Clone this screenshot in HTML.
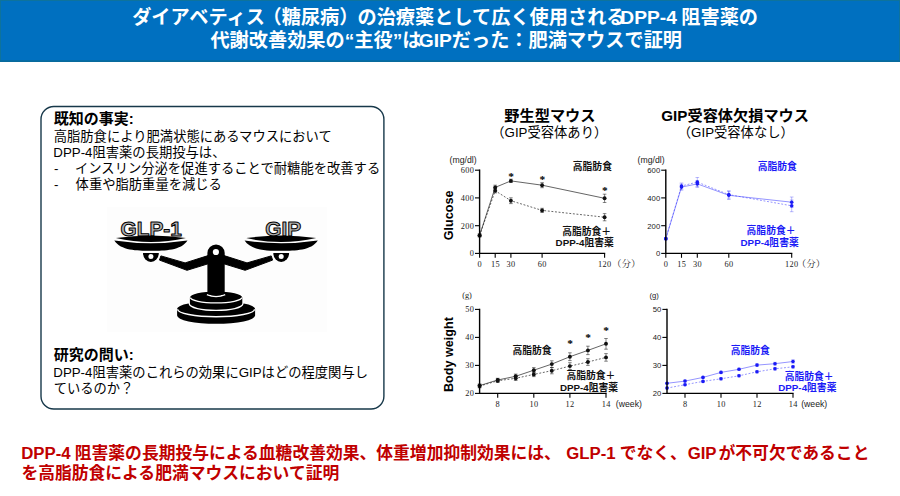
<!DOCTYPE html>
<html lang="ja"><head><meta charset="utf-8"><title>DPP-4阻害薬の代謝改善効果の主役はGIP</title>
<style>
html,body{margin:0;padding:0;background:#fff;}
body{width:900px;height:496px;overflow:hidden;position:relative;font-family:"Liberation Sans","Noto Sans CJK JP",sans-serif;}
#art{position:absolute;left:0;top:0;width:900px;height:496px;display:block;}
</style></head><body>
<svg id="art" width="900" height="496" viewBox="0 0 900 496">
<style>
.tk{font-family:"Liberation Serif",serif;font-size:8.3px;fill:#222;letter-spacing:.35px}
.tks{font-family:"Liberation Sans",sans-serif;font-size:7.7px;fill:#222}
.st{font-family:"Liberation Sans",sans-serif;font-size:13px;fill:#222}
.un{font-family:"Liberation Sans",sans-serif;font-size:8.7px;fill:#222}
.jp{font-family:"Liberation Sans","Noto Sans CJK JP",sans-serif}
.hd{font-family:"Liberation Sans","Noto Sans CJK JP",sans-serif;font-weight:bold;font-size:19.2px;fill:#fff}
.bd{font-family:"Liberation Sans","Noto Sans CJK JP",sans-serif;font-size:13.3px;fill:#000}
.bh{font-family:"Liberation Sans","Noto Sans CJK JP",sans-serif;font-weight:bold;font-size:15px;fill:#000}
.lg{font-family:"Liberation Sans","Noto Sans CJK JP",sans-serif;font-weight:bold;font-size:9.8px}
.rd{font-family:"Liberation Sans","Noto Sans CJK JP",sans-serif;font-weight:bold;font-size:16.8px;fill:#c00000}
.as{font-family:"Liberation Serif",serif;font-weight:bold;font-size:11.4px;fill:#000}
</style>
<rect x="0" y="0" width="900" height="61.8" fill="#0070c0"/>
<path d="M0 0H900V61.8H0Z M1 1V60.6H899V1Z" fill="#0e739c" fill-rule="evenodd"/>
<rect x="0" y="60.6" width="900" height="1.2" fill="#04669a"/>
<text class="hd" x="132.13" y="23.61">ダイアベティス</text>
<text class="hd" x="262.53" y="23.61">（糖尿病）</text>
<text class="hd" x="357.48" y="23.61">の治療薬として広く使用される</text>
<text class="hd" x="620.33" y="23.61">DPP-4</text>
<text class="hd" x="681.29" y="23.61">阻害薬の</text>
<text class="hd" x="210.43" y="46.71">代謝改善効果の“主役”は</text>
<text class="hd" x="418.72" y="46.71">GIPだった：肥満マウスで証明</text>
<rect x="41" y="106.5" width="342.9" height="302.5" rx="12.8" ry="12.8" fill="#fff" stroke="#17384a" stroke-width="1.4"/>
<text class="bh" x="53.81" y="123.91">既知の事実:</text>
<text class="bd" x="53.74" y="141.15">高脂肪食により肥満状態にあるマウスにおいて</text>
<text class="bd" x="53.31" y="157.45">DPP-4阻害薬の長期投与は、</text>
<text class="bd" x="54.09" y="173.25">-</text>
<text class="bd" x="75.02" y="173.25">インスリン分泌を促進することで耐糖能を改善する</text>
<text class="bd" x="54.09" y="188.55">-</text>
<text class="bd" x="75.61" y="188.55">体重や脂肪重量を減じる</text>
<text class="bh" x="53.87" y="360.41">研究の問い:</text>
<text class="bd" x="53.29" y="377.45">DPP-4阻害薬のこれらの効果にGIPはどの程度関与し</text>
<text class="bd" x="53.67" y="393.15">ているのか？</text>
<rect x="107" y="207" width="220" height="125" fill="#fdfdfd"/>
<text x="120.57" y="235.9" font-family="&quot;Liberation Sans&quot;,sans-serif" font-weight="bold" font-size="20.8px" fill="#fff" stroke="#fff" stroke-width="3" stroke-linejoin="round" opacity="0.85">GLP-1</text>
<text x="120.57" y="235.9" font-family="&quot;Liberation Sans&quot;,sans-serif" font-weight="bold" font-size="20.8px" fill="#b0b0b0" stroke="#000" stroke-width="1" stroke-linejoin="round">GLP-1</text>
<text x="265.21" y="235.9" font-family="&quot;Liberation Sans&quot;,sans-serif" font-weight="bold" font-size="20.8px" fill="#fff" stroke="#fff" stroke-width="3" stroke-linejoin="round" opacity="0.85">GIP</text>
<text x="265.21" y="235.9" font-family="&quot;Liberation Sans&quot;,sans-serif" font-weight="bold" font-size="20.8px" fill="#b0b0b0" stroke="#000" stroke-width="1" stroke-linejoin="round">GIP</text>
<path d="M115.90 238.1 Q150.90 233.1 185.90 238.1 Q150.90 245.9 115.90 238.1Z" fill="#000"/><path d="M114.30 240.5 C120.90 251 138.90 250.8 150.90 250.8 C162.90 250.8 180.90 251 187.50 240.5 Q150.90 245.9 114.30 240.5Z" fill="#000"/><path d="M143.00 253 A7.9 8.9 0 0 0 158.80 253Z" fill="#000"/><circle cx="150.90" cy="256.5" r="2.5" fill="#fff"/><path d="M246.20 238.1 Q281.20 233.1 316.20 238.1 Q281.20 245.9 246.20 238.1Z" fill="#000"/><path d="M244.60 240.5 C251.20 251 269.20 250.8 281.20 250.8 C293.20 250.8 311.20 251 317.80 240.5 Q281.20 245.9 244.60 240.5Z" fill="#000"/><path d="M273.30 253 A7.9 8.9 0 0 0 289.10 253Z" fill="#000"/><circle cx="281.20" cy="256.5" r="2.5" fill="#fff"/><path d="M271.2 255.9 L247 262.9 L224 255.6 L224 263.8 L245.1 270.3 L272.6 260.1Z" fill="#000" stroke="#000" stroke-width="1" stroke-linejoin="round"/><path d="M271.2 255.9 L247 262.9 L224 255.6 L224 263.8 L245.1 270.3 L272.6 260.1Z" fill="#000" stroke="#000" stroke-width="1" stroke-linejoin="round" transform="translate(432.10 0) scale(-1 1)"/><path d="M177.1 308.8 A39 7.4 0 0 1 255.1 308.8 L255.1 315.6 A39 8.2 0 0 1 177.1 315.6Z" fill="#000"/><path d="M177.6 309.2 A38.5 7.5 0 0 0 254.6 309.2" fill="none" stroke="#fff" stroke-width="1.4"/><path d="M189.9 297.6 A26.2 6 0 0 1 242.3 297.6 L242.3 303.4 A26.2 6.4 0 0 1 189.9 303.4Z" fill="#000" stroke="#fff" stroke-width="2.6" paint-order="stroke"/><path d="M190.4 297.6 A25.7 5.3 0 0 0 241.8 297.6" fill="none" stroke="#fff" stroke-width="1.4"/><path d="M206.9 294.6 Q216.05 298.3 225.2 294.6" fill="none" stroke="#fff" stroke-width="1.5"/><path d="M207.4 294 L207.4 253.1 A8.65 8.65 0 0 1 224.7 253.1 L224.7 294 Q216.05 297.6 207.4 294Z" fill="#000"/><circle cx="215.9" cy="252" r="3.1" fill="#fff"/>
<text class="jp" x="504.35" y="120.53" font-weight="bold" font-size="15.2px" fill="#000">野生型マウス</text>
<text class="bd" x="491.29" y="136.85">（GIP受容体あり）</text>
<text class="jp" x="661.30" y="120.53" font-weight="bold" font-size="15.2px" fill="#000">GIP受容体欠損マウス</text>
<text class="bd" x="677.80" y="136.85">（GIP受容体なし）</text>
<path d="M479.6 235.4 L495.2 187.4 L510.9 180.9 L542.1 185.2 L604.6 198.3" fill="none" stroke="#111" stroke-width="0.65"/><path d="M479.6 234.0 V236.8 M477.8 234.0 h3.6 M477.8 236.8 h3.6" stroke="#111" stroke-width="0.6" fill="none" opacity="0.85"/><circle cx="479.6" cy="235.4" r="1.95" fill="#111"/><path d="M495.2 185.2 V189.6 M493.4 185.2 h3.6 M493.4 189.6 h3.6" stroke="#111" stroke-width="0.6" fill="none" opacity="0.85"/><circle cx="495.2" cy="187.4" r="1.95" fill="#111"/><path d="M510.9 179.2 V182.5 M509.1 179.2 h3.6 M509.1 182.5 h3.6" stroke="#111" stroke-width="0.6" fill="none" opacity="0.85"/><circle cx="510.9" cy="180.9" r="1.95" fill="#111"/><path d="M542.1 182.7 V187.7 M540.3 182.7 h3.6 M540.3 187.7 h3.6" stroke="#111" stroke-width="0.6" fill="none" opacity="0.85"/><circle cx="542.1" cy="185.2" r="1.95" fill="#111"/><path d="M604.6 194.2 V202.5 M602.8 194.2 h3.6 M602.8 202.5 h3.6" stroke="#111" stroke-width="0.6" fill="none" opacity="0.85"/><circle cx="604.6" cy="198.3" r="1.95" fill="#111"/><path d="M479.6 235.4 L495.2 190.7 L510.9 200.7 L542.1 210.4 L604.6 217.2" fill="none" stroke="#111" stroke-width="0.65" stroke-dasharray="1.9 1.7"/><path d="M479.6 234.0 V236.8 M477.8 234.0 h3.6 M477.8 236.8 h3.6" stroke="#111" stroke-width="0.6" fill="none" opacity="0.85"/><circle cx="479.6" cy="235.4" r="1.95" fill="#111"/><path d="M495.2 188.5 V192.9 M493.4 188.5 h3.6 M493.4 192.9 h3.6" stroke="#111" stroke-width="0.6" fill="none" opacity="0.85"/><circle cx="495.2" cy="190.7" r="1.95" fill="#111"/><path d="M510.9 197.8 V203.6 M509.1 197.8 h3.6 M509.1 203.6 h3.6" stroke="#111" stroke-width="0.6" fill="none" opacity="0.85"/><circle cx="510.9" cy="200.7" r="1.95" fill="#111"/><path d="M542.1 208.3 V212.5 M540.3 208.3 h3.6 M540.3 212.5 h3.6" stroke="#111" stroke-width="0.6" fill="none" opacity="0.85"/><circle cx="542.1" cy="210.4" r="1.95" fill="#111"/><path d="M604.6 213.6 V220.8 M602.8 213.6 h3.6 M602.8 220.8 h3.6" stroke="#111" stroke-width="0.6" fill="none" opacity="0.85"/><circle cx="604.6" cy="217.2" r="1.95" fill="#111"/><path d="M479.6 169.6 V253.4 H605.2" fill="none" stroke="#000" stroke-width="1.4" stroke-linejoin="miter"/><path d="M479.6 253.4 h-4.6" stroke="#000" stroke-width="1.1"/><path d="M479.6 225.7 h-4.6" stroke="#000" stroke-width="1.1"/><path d="M479.6 197.9 h-4.6" stroke="#000" stroke-width="1.1"/><path d="M479.6 170.2 h-4.6" stroke="#000" stroke-width="1.1"/><path d="M479.6 253.4 v4.4" stroke="#000" stroke-width="1.1"/><path d="M495.2 253.4 v4.4" stroke="#000" stroke-width="1.1"/><path d="M510.9 253.4 v4.4" stroke="#000" stroke-width="1.1"/><path d="M542.1 253.4 v4.4" stroke="#000" stroke-width="1.1"/><path d="M604.6 253.4 v4.4" stroke="#000" stroke-width="1.1"/>
<text class="tk" x="469.85" y="256.30">0</text>
<text class="tk" x="460.85" y="228.57">200</text>
<text class="tk" x="460.85" y="200.83">400</text>
<text class="tk" x="460.85" y="173.10">600</text>
<text class="tk" x="477.53" y="267.10">0</text>
<text class="tk" x="490.90" y="267.10">15</text>
<text class="tk" x="506.53" y="267.10">30</text>
<text class="tk" x="537.77" y="267.10">60</text>
<text class="tk" x="598.02" y="267.10">120</text>
<text class="as" x="508.13" y="179.70">*</text>
<text class="as" x="539.38" y="182.60">*</text>
<text class="as" x="601.88" y="193.80">*</text>
<path d="M665.8 238.7 L681.5 187.1 L697.3 183.9 L728.8 195.3 L791.7 202.2" fill="none" stroke="#3c3cff" stroke-width="0.55"/><path d="M665.8 237.6 V239.8 M664.0 237.6 h3.6 M664.0 239.8 h3.6" stroke="#1a1af6" stroke-width="0.6" fill="none" opacity="0.5"/><circle cx="665.8" cy="238.7" r="1.80" fill="#1a1af6"/><path d="M681.5 184.1 V190.2 M679.7 184.1 h3.6 M679.7 190.2 h3.6" stroke="#1a1af6" stroke-width="0.6" fill="none" opacity="0.5"/><circle cx="681.5" cy="187.1" r="1.80" fill="#1a1af6"/><path d="M697.3 180.6 V187.3 M695.5 180.6 h3.6 M695.5 187.3 h3.6" stroke="#1a1af6" stroke-width="0.6" fill="none" opacity="0.5"/><circle cx="697.3" cy="183.9" r="1.80" fill="#1a1af6"/><path d="M728.8 191.1 V199.5 M727.0 191.1 h3.6 M727.0 199.5 h3.6" stroke="#1a1af6" stroke-width="0.6" fill="none" opacity="0.5"/><circle cx="728.8" cy="195.3" r="1.80" fill="#1a1af6"/><path d="M791.7 197.0 V207.5 M789.9 197.0 h3.6 M789.9 207.5 h3.6" stroke="#1a1af6" stroke-width="0.6" fill="none" opacity="0.5"/><circle cx="791.7" cy="202.2" r="1.80" fill="#1a1af6"/><path d="M665.8 238.7 L681.5 186.0 L697.3 182.1 L728.8 194.6 L791.7 205.8" fill="none" stroke="#3c3cff" stroke-width="0.55" stroke-dasharray="1.9 1.7"/><path d="M665.8 237.6 V239.8 M664.0 237.6 h3.6 M664.0 239.8 h3.6" stroke="#1a1af6" stroke-width="0.6" fill="none" opacity="0.5"/><circle cx="665.8" cy="238.7" r="1.80" fill="#1a1af6"/><path d="M681.5 183.0 V189.1 M679.7 183.0 h3.6 M679.7 189.1 h3.6" stroke="#1a1af6" stroke-width="0.6" fill="none" opacity="0.5"/><circle cx="681.5" cy="186.0" r="1.80" fill="#1a1af6"/><path d="M697.3 177.5 V186.7 M695.5 177.5 h3.6 M695.5 186.7 h3.6" stroke="#1a1af6" stroke-width="0.6" fill="none" opacity="0.5"/><circle cx="697.3" cy="182.1" r="1.80" fill="#1a1af6"/><path d="M728.8 191.0 V198.2 M727.0 191.0 h3.6 M727.0 198.2 h3.6" stroke="#1a1af6" stroke-width="0.6" fill="none" opacity="0.5"/><circle cx="728.8" cy="194.6" r="1.80" fill="#1a1af6"/><path d="M791.7 200.0 V211.7 M789.9 200.0 h3.6 M789.9 211.7 h3.6" stroke="#1a1af6" stroke-width="0.6" fill="none" opacity="0.5"/><circle cx="791.7" cy="205.8" r="1.80" fill="#1a1af6"/><path d="M665.8 169.6 V253.4 H792.3" fill="none" stroke="#000" stroke-width="1.4" stroke-linejoin="miter"/><path d="M665.8 253.4 h-4.6" stroke="#000" stroke-width="1.1"/><path d="M665.8 225.7 h-4.6" stroke="#000" stroke-width="1.1"/><path d="M665.8 197.9 h-4.6" stroke="#000" stroke-width="1.1"/><path d="M665.8 170.2 h-4.6" stroke="#000" stroke-width="1.1"/><path d="M665.8 253.4 v4.4" stroke="#000" stroke-width="1.1"/><path d="M681.5 253.4 v4.4" stroke="#000" stroke-width="1.1"/><path d="M697.3 253.4 v4.4" stroke="#000" stroke-width="1.1"/><path d="M728.8 253.4 v4.4" stroke="#000" stroke-width="1.1"/><path d="M791.7 253.4 v4.4" stroke="#000" stroke-width="1.1"/>
<text class="tks" x="655.92" y="256.30">0</text>
<text class="tks" x="647.35" y="228.57">200</text>
<text class="tks" x="647.35" y="200.83">400</text>
<text class="tks" x="647.35" y="173.10">600</text>
<text class="tk" x="663.72" y="267.10">0</text>
<text class="tk" x="677.21" y="267.10">15</text>
<text class="tk" x="692.95" y="267.10">30</text>
<text class="tk" x="724.42" y="267.10">60</text>
<text class="tk" x="785.12" y="267.10">120</text>
<path d="M479.6 385.6 L497.7 380.0 L515.7 376.3 L533.8 370.2 L551.8 364.1 L569.9 356.7 L587.9 350.4 L606.0 343.8" fill="none" stroke="#111" stroke-width="0.65"/><path d="M479.6 383.9 V387.2 M477.8 383.9 h3.6 M477.8 387.2 h3.6" stroke="#111" stroke-width="0.6" fill="none" opacity="0.85"/><circle cx="479.6" cy="385.6" r="1.95" fill="#111"/><path d="M497.7 378.3 V381.6 M495.9 378.3 h3.6 M495.9 381.6 h3.6" stroke="#111" stroke-width="0.6" fill="none" opacity="0.85"/><circle cx="497.7" cy="380.0" r="1.95" fill="#111"/><path d="M515.7 374.1 V378.6 M513.9 374.1 h3.6 M513.9 378.6 h3.6" stroke="#111" stroke-width="0.6" fill="none" opacity="0.85"/><circle cx="515.7" cy="376.3" r="1.95" fill="#111"/><path d="M533.8 367.6 V372.7 M532.0 367.6 h3.6 M532.0 372.7 h3.6" stroke="#111" stroke-width="0.6" fill="none" opacity="0.85"/><circle cx="533.8" cy="370.2" r="1.95" fill="#111"/><path d="M551.8 360.8 V367.5 M550.0 360.8 h3.6 M550.0 367.5 h3.6" stroke="#111" stroke-width="0.6" fill="none" opacity="0.85"/><circle cx="551.8" cy="364.1" r="1.95" fill="#111"/><path d="M569.9 352.8 V360.6 M568.1 352.8 h3.6 M568.1 360.6 h3.6" stroke="#111" stroke-width="0.6" fill="none" opacity="0.85"/><circle cx="569.9" cy="356.7" r="1.95" fill="#111"/><path d="M587.9 346.2 V354.6 M586.1 346.2 h3.6 M586.1 354.6 h3.6" stroke="#111" stroke-width="0.6" fill="none" opacity="0.85"/><circle cx="587.9" cy="350.4" r="1.95" fill="#111"/><path d="M606.0 338.5 V349.2 M604.2 338.5 h3.6 M604.2 349.2 h3.6" stroke="#111" stroke-width="0.6" fill="none" opacity="0.85"/><circle cx="606.0" cy="343.8" r="1.95" fill="#111"/><path d="M479.6 386.1 L497.7 380.8 L515.7 378.3 L533.8 374.4 L551.8 370.7 L569.9 366.1 L587.9 362.0 L606.0 357.4" fill="none" stroke="#111" stroke-width="0.65" stroke-dasharray="1.9 1.7"/><path d="M479.6 384.4 V387.8 M477.8 384.4 h3.6 M477.8 387.8 h3.6" stroke="#111" stroke-width="0.6" fill="none" opacity="0.85"/><circle cx="479.6" cy="386.1" r="1.95" fill="#111"/><path d="M497.7 379.1 V382.5 M495.9 379.1 h3.6 M495.9 382.5 h3.6" stroke="#111" stroke-width="0.6" fill="none" opacity="0.85"/><circle cx="497.7" cy="380.8" r="1.95" fill="#111"/><path d="M515.7 376.0 V380.5 M513.9 376.0 h3.6 M513.9 380.5 h3.6" stroke="#111" stroke-width="0.6" fill="none" opacity="0.85"/><circle cx="515.7" cy="378.3" r="1.95" fill="#111"/><path d="M533.8 372.1 V376.6 M532.0 372.1 h3.6 M532.0 376.6 h3.6" stroke="#111" stroke-width="0.6" fill="none" opacity="0.85"/><circle cx="533.8" cy="374.4" r="1.95" fill="#111"/><path d="M551.8 367.6 V373.8 M550.0 367.6 h3.6 M550.0 373.8 h3.6" stroke="#111" stroke-width="0.6" fill="none" opacity="0.85"/><circle cx="551.8" cy="370.7" r="1.95" fill="#111"/><path d="M569.9 362.7 V369.5 M568.1 362.7 h3.6 M568.1 369.5 h3.6" stroke="#111" stroke-width="0.6" fill="none" opacity="0.85"/><circle cx="569.9" cy="366.1" r="1.95" fill="#111"/><path d="M587.9 358.7 V365.4 M586.1 358.7 h3.6 M586.1 365.4 h3.6" stroke="#111" stroke-width="0.6" fill="none" opacity="0.85"/><circle cx="587.9" cy="362.0" r="1.95" fill="#111"/><path d="M606.0 353.6 V361.2 M604.2 353.6 h3.6 M604.2 361.2 h3.6" stroke="#111" stroke-width="0.6" fill="none" opacity="0.85"/><circle cx="606.0" cy="357.4" r="1.95" fill="#111"/><path d="M479.6 308.8 V393.4 H606.6" fill="none" stroke="#000" stroke-width="1.4" stroke-linejoin="miter"/><path d="M479.6 393.4 h-4.6" stroke="#000" stroke-width="1.1"/><path d="M479.6 365.4 h-4.6" stroke="#000" stroke-width="1.1"/><path d="M479.6 337.4 h-4.6" stroke="#000" stroke-width="1.1"/><path d="M479.6 309.4 h-4.6" stroke="#000" stroke-width="1.1"/><path d="M497.7 393.4 v4.4" stroke="#000" stroke-width="1.1"/><path d="M533.8 393.4 v4.4" stroke="#000" stroke-width="1.1"/><path d="M569.9 393.4 v4.4" stroke="#000" stroke-width="1.1"/><path d="M606.0 393.4 v4.4" stroke="#000" stroke-width="1.1"/>
<text class="tk" x="465.35" y="396.30">20</text>
<text class="tk" x="465.35" y="368.30">30</text>
<text class="tk" x="465.35" y="340.30">40</text>
<text class="tk" x="465.35" y="312.30">50</text>
<text class="tk" x="495.58" y="407.10">8</text>
<text class="tk" x="529.45" y="407.10">10</text>
<text class="tk" x="565.56" y="407.10">12</text>
<text class="tk" x="601.67" y="407.10">14</text>
<text class="as" x="567.16" y="346.50">*</text>
<text class="as" x="585.22" y="341.40">*</text>
<text class="as" x="603.28" y="333.90">*</text>
<path d="M667.0 383.3 L685.0 381.1 L703.0 377.4 L721.0 372.4 L739.0 369.3 L757.0 365.1 L775.0 363.7 L793.0 361.5" fill="none" stroke="#3c3cff" stroke-width="0.55"/><path d="M667.0 382.5 V384.2 M665.2 382.5 h3.6 M665.2 384.2 h3.6" stroke="#1a1af6" stroke-width="0.6" fill="none" opacity="0.5"/><circle cx="667.0" cy="383.3" r="1.80" fill="#1a1af6"/><path d="M685.0 380.2 V381.9 M683.2 380.2 h3.6 M683.2 381.9 h3.6" stroke="#1a1af6" stroke-width="0.6" fill="none" opacity="0.5"/><circle cx="685.0" cy="381.1" r="1.80" fill="#1a1af6"/><path d="M703.0 376.6 V378.3 M701.2 376.6 h3.6 M701.2 378.3 h3.6" stroke="#1a1af6" stroke-width="0.6" fill="none" opacity="0.5"/><circle cx="703.0" cy="377.4" r="1.80" fill="#1a1af6"/><path d="M721.0 371.3 V373.5 M719.2 371.3 h3.6 M719.2 373.5 h3.6" stroke="#1a1af6" stroke-width="0.6" fill="none" opacity="0.5"/><circle cx="721.0" cy="372.4" r="1.80" fill="#1a1af6"/><path d="M739.0 368.2 V370.4 M737.2 368.2 h3.6 M737.2 370.4 h3.6" stroke="#1a1af6" stroke-width="0.6" fill="none" opacity="0.5"/><circle cx="739.0" cy="369.3" r="1.80" fill="#1a1af6"/><path d="M757.0 363.7 V366.5 M755.2 363.7 h3.6 M755.2 366.5 h3.6" stroke="#1a1af6" stroke-width="0.6" fill="none" opacity="0.5"/><circle cx="757.0" cy="365.1" r="1.80" fill="#1a1af6"/><path d="M775.0 362.3 V365.1 M773.2 362.3 h3.6 M773.2 365.1 h3.6" stroke="#1a1af6" stroke-width="0.6" fill="none" opacity="0.5"/><circle cx="775.0" cy="363.7" r="1.80" fill="#1a1af6"/><path d="M793.0 359.8 V363.2 M791.2 359.8 h3.6 M791.2 363.2 h3.6" stroke="#1a1af6" stroke-width="0.6" fill="none" opacity="0.5"/><circle cx="793.0" cy="361.5" r="1.80" fill="#1a1af6"/><path d="M667.0 388.1 L685.0 384.7 L703.0 381.4 L721.0 378.8 L739.0 375.8 L757.0 371.8 L775.0 368.8 L793.0 366.8" fill="none" stroke="#3c3cff" stroke-width="0.55" stroke-dasharray="1.9 1.7"/><path d="M667.0 387.2 V388.9 M665.2 387.2 h3.6 M665.2 388.9 h3.6" stroke="#1a1af6" stroke-width="0.6" fill="none" opacity="0.5"/><circle cx="667.0" cy="388.1" r="1.80" fill="#1a1af6"/><path d="M685.0 383.9 V385.6 M683.2 383.9 h3.6 M683.2 385.6 h3.6" stroke="#1a1af6" stroke-width="0.6" fill="none" opacity="0.5"/><circle cx="685.0" cy="384.7" r="1.80" fill="#1a1af6"/><path d="M703.0 380.5 V382.2 M701.2 380.5 h3.6 M701.2 382.2 h3.6" stroke="#1a1af6" stroke-width="0.6" fill="none" opacity="0.5"/><circle cx="703.0" cy="381.4" r="1.80" fill="#1a1af6"/><path d="M721.0 377.7 V380.0 M719.2 377.7 h3.6 M719.2 380.0 h3.6" stroke="#1a1af6" stroke-width="0.6" fill="none" opacity="0.5"/><circle cx="721.0" cy="378.8" r="1.80" fill="#1a1af6"/><path d="M739.0 374.6 V376.9 M737.2 374.6 h3.6 M737.2 376.9 h3.6" stroke="#1a1af6" stroke-width="0.6" fill="none" opacity="0.5"/><circle cx="739.0" cy="375.8" r="1.80" fill="#1a1af6"/><path d="M757.0 370.7 V373.0 M755.2 370.7 h3.6 M755.2 373.0 h3.6" stroke="#1a1af6" stroke-width="0.6" fill="none" opacity="0.5"/><circle cx="757.0" cy="371.8" r="1.80" fill="#1a1af6"/><path d="M775.0 367.4 V370.2 M773.2 367.4 h3.6 M773.2 370.2 h3.6" stroke="#1a1af6" stroke-width="0.6" fill="none" opacity="0.5"/><circle cx="775.0" cy="368.8" r="1.80" fill="#1a1af6"/><path d="M793.0 365.4 V368.2 M791.2 365.4 h3.6 M791.2 368.2 h3.6" stroke="#1a1af6" stroke-width="0.6" fill="none" opacity="0.5"/><circle cx="793.0" cy="366.8" r="1.80" fill="#1a1af6"/><path d="M667.0 308.8 V393.4 H793.6" fill="none" stroke="#000" stroke-width="1.4" stroke-linejoin="miter"/><path d="M667.0 393.4 h-4.6" stroke="#000" stroke-width="1.1"/><path d="M667.0 365.4 h-4.6" stroke="#000" stroke-width="1.1"/><path d="M667.0 337.4 h-4.6" stroke="#000" stroke-width="1.1"/><path d="M667.0 309.4 h-4.6" stroke="#000" stroke-width="1.1"/><path d="M685.0 393.4 v4.4" stroke="#000" stroke-width="1.1"/><path d="M721.0 393.4 v4.4" stroke="#000" stroke-width="1.1"/><path d="M757.0 393.4 v4.4" stroke="#000" stroke-width="1.1"/><path d="M793.0 393.4 v4.4" stroke="#000" stroke-width="1.1"/>
<text class="tks" x="652.84" y="396.30">20</text>
<text class="tks" x="652.84" y="368.30">30</text>
<text class="tks" x="652.84" y="340.30">40</text>
<text class="tks" x="652.84" y="312.30">50</text>
<text class="tk" x="682.92" y="407.10">8</text>
<text class="tk" x="716.67" y="407.10">10</text>
<text class="tk" x="752.67" y="407.10">12</text>
<text class="tk" x="788.67" y="407.10">14</text>
<text class="un" x="449.60" y="163.00">(mg/dl)</text>
<text class="un" x="637.60" y="163.00">(mg/dl)</text>
<text x="462.20" y="298.20" font-family="&quot;Liberation Serif&quot;,serif" font-size="8.3px" fill="#222">(g)</text>
<text class="tks" x="649.40" y="298.40">(g)</text>
<text class="un" x="615.80" y="407.20">(week)</text>
<text class="un" x="801.20" y="407.20">(week)</text>
<text x="611.90" y="267.21" font-family="&quot;Liberation Serif&quot;,&quot;Noto Serif CJK SC&quot;,serif" font-size="9.5px" fill="#222">（分）</text>
<text x="796.71" y="267.21" font-family="&quot;Liberation Serif&quot;,&quot;Noto Serif CJK SC&quot;,serif" font-size="9.5px" fill="#222">（分）</text>
<text transform="translate(448.7 215.4) rotate(-90)" x="0" y="4.5" text-anchor="middle" font-family="&quot;Liberation Sans&quot;,sans-serif" font-weight="bold" font-size="12.6px" fill="#000">Glucose</text>
<text transform="translate(448.1 354.6) rotate(-90)" x="0" y="4.5" text-anchor="middle" font-family="&quot;Liberation Sans&quot;,sans-serif" font-weight="bold" font-size="12.6px" fill="#000">Body weight</text>
<text class="lg" x="572.79" y="170.35" fill="#111">高脂肪食</text>
<text class="lg" x="562.19" y="234.75" fill="#111">高脂肪食＋</text>
<text class="lg" x="555.61" y="246.25" fill="#111">DPP-4阻害薬</text>
<text class="lg" x="757.70" y="170.05" fill="#1a1af6">高脂肪食</text>
<text class="lg" x="746.59" y="234.45" fill="#1a1af6">高脂肪食＋</text>
<text class="lg" x="740.52" y="245.95" fill="#1a1af6">DPP-4阻害薬</text>
<text class="lg" x="512.49" y="353.75" fill="#111">高脂肪食</text>
<text class="lg" x="566.40" y="379.15" fill="#111">高脂肪食＋</text>
<text class="lg" x="559.92" y="391.05" fill="#111">DPP-4阻害薬</text>
<text class="lg" x="730.69" y="354.15" fill="#1a1af6">高脂肪食</text>
<text class="lg" x="784.70" y="379.55" fill="#1a1af6">高脂肪食＋</text>
<text class="lg" x="778.22" y="391.35" fill="#1a1af6">DPP-4阻害薬</text>
<text class="rd" x="21.13" y="459.23">DPP-4</text>
<text class="rd" x="74.75" y="459.23">阻害薬の長期投与による血糖改善効果、体重増加抑制効果には、</text>
<text class="rd" x="566.29" y="459.23">GLP-1</text>
<text class="rd" x="619.78" y="459.23">でなく、</text>
<text class="rd" x="687.64" y="459.23">GIP</text>
<text class="rd" x="718.56" y="459.23">が不可欠であること</text>
<text class="rd" x="21.40" y="478.63">を高脂肪食による肥満マウスにおいて証明</text>
</svg>
</body></html>
